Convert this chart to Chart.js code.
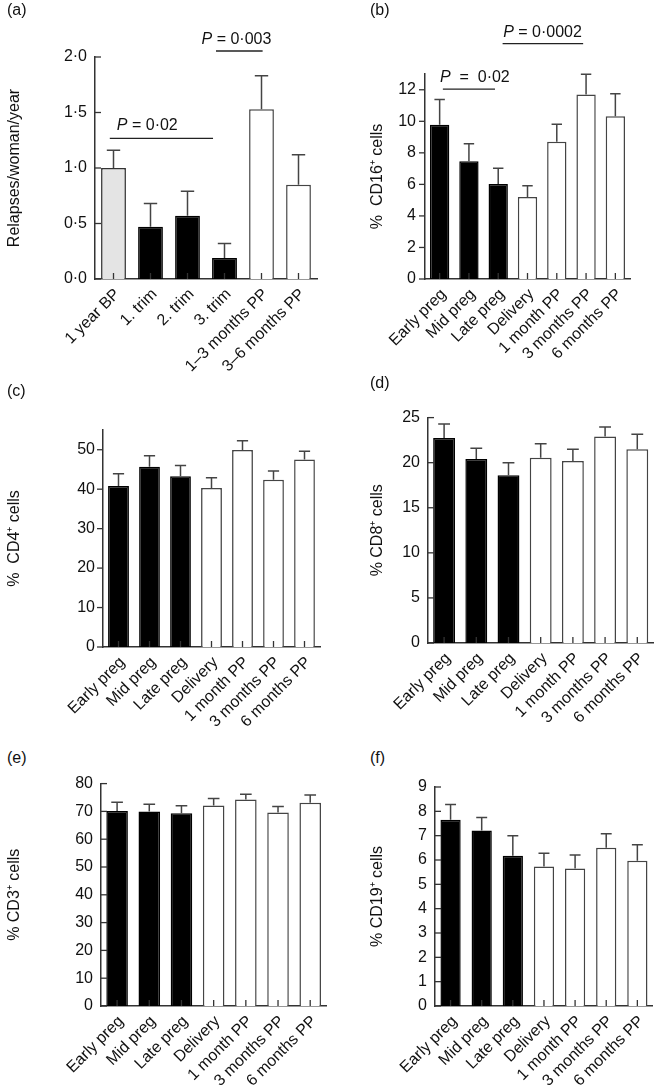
<!DOCTYPE html>
<html><head><meta charset="utf-8">
<script src="https://cdn.jsdelivr.net/npm/chart.js@4"></script>
<style>
html,body{margin:0;padding:0;background:#fff;}
body{width:657px;height:1091px;position:relative;overflow:hidden;font-family:'Liberation Sans',Arial,sans-serif;}
canvas{position:absolute;}
.lbl{position:absolute;font-size:16px;color:#111;line-height:1;font-family:'Liberation Sans',Arial,sans-serif;}
</style></head><body>
<canvas id="pa"></canvas><canvas id="pb"></canvas>
<canvas id="pc"></canvas><canvas id="pd"></canvas>
<canvas id="pe"></canvas><canvas id="pf"></canvas>
<div class="lbl" style="left:7px;top:2px">(a)</div>
<div class="lbl" style="left:370px;top:2px">(b)</div>
<div class="lbl" style="left:7px;top:383px">(c)</div>
<div class="lbl" style="left:370px;top:375px">(d)</div>
<div class="lbl" style="left:7px;top:750px">(e)</div>
<div class="lbl" style="left:370px;top:750px">(f)</div>
<script>
// ---------- DATA ----------
const relapseCategories = ['1 year BP','1. trim','2. trim','3. trim','1–3 months PP','3–6 months PP'];
const relapseRate = [1.00, 0.47, 0.57, 0.19, 1.53, 0.85];
const relapseSE   = [0.16, 0.21, 0.22, 0.13, 0.30, 0.27];
const relapseTicks = ['0·0','0·5','1·0','1·5','2·0'];

const stageCategories = ['Early preg','Mid preg','Late preg','Delivery','1 month PP','3 months PP','6 months PP'];
const cd16   = [9.78, 7.46, 6.02, 5.20, 8.70, 11.70, 10.32];
const cd16SE = [1.61, 1.11, 1.00, 0.72, 1.12, 1.28, 1.43];
const cd16Ticks = ['0','2','4','6','8','10','12'];
const cd4    = [40.8, 45.7, 43.3, 40.3, 49.9, 42.4, 47.5];
const cd4SE  = [3.1, 2.8, 2.7, 2.6, 2.4, 2.2, 2.1];
const cd4Ticks = ['0','10','20','30','40','50'];
const cd8    = [22.75, 20.4, 18.6, 20.55, 20.2, 22.9, 21.5];
const cd8SE  = [1.55, 1.2, 1.4, 1.55, 1.3, 1.05, 1.65];
const cd8Ticks = ['0','5','10','15','20','25'];
const cd3    = [70.1, 70.0, 69.3, 72.1, 74.3, 69.6, 73.1];
const cd3SE  = [3.2, 2.6, 2.7, 2.5, 1.9, 2.2, 2.8];
const cd3Ticks = ['0','10','20','30','40','50','60','70','80'];
const cd19   = [7.65, 7.21, 6.17, 5.73, 5.65, 6.50, 5.97];
const cd19SE = [0.63, 0.54, 0.83, 0.55, 0.56, 0.58, 0.66];
const cd19Ticks = ['0','1','2','3','4','5','6','7','8','9'];

const pTextsA = ['= 0·02', '= 0·003'];
const pTextsB = [' =  0·02', '= 0·0002'];

// ---------- STYLE / LAYOUT ----------
const FONT = "'Liberation Sans', Arial, sans-serif";
Chart.defaults.font.family = FONT;
Chart.defaults.font.size = 16;
Chart.defaults.color = '#111';
const AX = '#333';
function fillsFor(n, kind){
  const f=[], b=[];
  for(let i=0;i<n;i++){
    if(kind==='relapse'){
      if(i===0){f.push('#e4e4e4');b.push('#333');}
      else if(i<4){f.push('#000');b.push('#000');}
      else {f.push('#fff');b.push('#444');}
    } else {
      if(i<3){f.push('#000');b.push('#000');}
      else {f.push('#fff');b.push('#444');}
    }
  }
  return {f,b};
}

const errPlugin = {
  id:'errbars',
  afterDatasetsDraw(chart){
    const ctx=chart.ctx, y=chart.scales.y;
    const ds=chart.data.datasets[0], meta=chart.getDatasetMeta(0);
    ctx.save(); ctx.strokeStyle='#444'; ctx.lineWidth=1.5;
    meta.data.forEach((bar,i)=>{
      const top=y.getPixelForValue(ds.data[i]+ds.errors[i]);
      const cap=bar.width*0.27;
      ctx.beginPath();
      ctx.moveTo(bar.x, bar.y); ctx.lineTo(bar.x, top);
      ctx.moveTo(bar.x-cap, top); ctx.lineTo(bar.x+cap, top);
      ctx.stroke();
    });
    // inward x ticks
    const xs=chart.scales.x, a=chart.chartArea;
    ctx.strokeStyle=AX; ctx.lineWidth=1.3;
    xs.ticks.forEach((t,i)=>{
      const px=xs.getPixelForTick(i);
      ctx.beginPath(); ctx.moveTo(px,a.bottom); ctx.lineTo(px,a.bottom-6); ctx.stroke();
    });
    // y ticks
    const dir = chart.options.plugins.yTickDir || -1;
    y.ticks.forEach((t)=>{
      const py=y.getPixelForValue(t.value);
      ctx.beginPath(); ctx.moveTo(a.left,py); ctx.lineTo(a.left+dir*6,py); ctx.stroke();
    });
    ctx.restore();
  }
};

const pPlugin = {
  id:'pvals',
  afterDraw(chart){
    const notes = chart.options.plugins.pnotes;
    if(!notes) return;
    const ctx=chart.ctx, xs=chart.scales.x, ys=chart.scales.y;
    const p0=xs.getPixelForValue(0), p1=xs.getPixelForValue(1);
    const cx=v=>p0+v*(p1-p0);
    ctx.save();
    notes.forEach(n=>{
      ctx.strokeStyle='#222'; ctx.lineWidth=1.3;
      const ly=ys.getPixelForValue(n.y);
      ctx.beginPath(); ctx.moveTo(cx(n.x0),ly); ctx.lineTo(cx(n.x1),ly); ctx.stroke();
      const tx=cx(n.tx), ty=ys.getPixelForValue(n.ty);
      ctx.fillStyle='#111'; ctx.textBaseline='middle'; ctx.textAlign='left';
      ctx.font="italic 16px "+FONT;
      ctx.fillText('P', tx, ty);
      const w=ctx.measureText('P').width;
      ctx.font="16px "+FONT;
      ctx.fillText(' '+n.text, tx+w, ty);
    });
    ctx.restore();
  }
};

function makeChart(p){
  const c=document.getElementById(p.id);
  c.width=p.w; c.height=p.h;
  c.style.left=p.x+'px'; c.style.top=p.y+'px';
  c.style.width=p.w+'px'; c.style.height=p.h+'px';
  const col=fillsFor(p.labels.length, p.kind);
  new Chart(c,{
    type:'bar',
    data:{labels:p.labels, datasets:[{data:p.values, errors:p.errors,
      backgroundColor:col.f, borderColor:col.b, borderWidth:1.5, borderSkipped:'start',
      barPercentage:p.bp, categoryPercentage:1}]},
    options:{
      responsive:false, animation:false, devicePixelRatio:1,
      layout:{padding:{left:0, top:p.area.top, right:p.w-p.area.right, bottom:0}},
      plugins:{legend:{display:false}, tooltip:{enabled:false}, pnotes:p.notes, yTickDir:p.ydir},
      scales:{
        x:{type:'category', offset:true,
          grid:{display:false, drawTicks:false},
          border:{display:true, color:AX, width:1.5},
          ticks:{autoSkip:false, minRotation:45, maxRotation:45, padding:6, labelOffset:4, color:'#111', font:{size:16}},
          afterFit:s=>{s.height=p.h-p.area.bottom;}},
        y:{min:0, max:p.max,
          grid:{display:false, drawTicks:false},
          border:{display:true, color:AX, width:1.5},
          ticks:{stepSize:p.step, includeBounds:false, padding:p.tpad, color:'#111', font:{size:16},
            callback:(v,i)=>p.tickLabels[i]},
          title:{display:true, text:p.title, color:'#111', font:{size:16}, padding:{top:p.titlePad, bottom:0}},
          afterFit:s=>{s.width=p.area.left;}}
      }
    },
    plugins:[errPlugin, pPlugin]
  });
}

makeChart({id:'pa', x:0, y:0, w:328, h:385, area:{left:95, top:57, right:317, bottom:279},
  labels:relapseCategories, values:relapseRate, errors:relapseSE, kind:'relapse', bp:0.67,
  max:2, step:0.5, tickLabels:relapseTicks, title:'Relapses/woman/year', titlePad:5, tpad:8, ydir:1,
  notes:[{x0:-0.1, x1:2.69, y:1.267, tx:0.09, ty:1.378, text:pTextsA[0]},
         {x0:2.77, x1:4.03, y:2.054, tx:2.38, ty:2.16, text:pTextsA[1]}]});

makeChart({id:'pb', x:330, y:0, w:327, h:385, area:{left:95, top:74, right:300, bottom:279},
  labels:stageCategories, values:cd16, errors:cd16SE, kind:'stage', bp:0.66,
  max:13, step:2, tickLabels:cd16Ticks, title:'%  CD16⁺ cells', titlePad:38, tpad:9, ydir:-1,
  notes:[{x0:0.11, x1:1.89, y:12.04, tx:0.01, ty:12.76, text:pTextsB[0]},
         {x0:2.15, x1:4.9, y:14.92, tx:2.17, ty:15.65, text:pTextsB[1]}]});

makeChart({id:'pc', x:0, y:400, w:328, h:345, area:{left:103, top:30, right:320, bottom:247},
  labels:stageCategories, values:cd4, errors:cd4SE, kind:'stage', bp:0.67,
  max:55, step:10, tickLabels:cd4Ticks, title:'%  CD4⁺ cells', titlePad:5, tpad:8, ydir:-1});

makeChart({id:'pd', x:330, y:400, w:327, h:345, area:{left:98, top:16, right:325, bottom:243},
  labels:stageCategories, values:cd8, errors:cd8SE, kind:'stage', bp:0.68,
  max:25, step:5, tickLabels:cd8Ticks, title:'% CD8⁺ cells', titlePad:38, tpad:8, ydir:1});

makeChart({id:'pe', x:0, y:766, w:330, h:325, area:{left:101, top:15, right:327, bottom:240},
  labels:stageCategories, values:cd3, errors:cd3SE, kind:'stage', bp:0.67,
  max:80, step:10, tickLabels:cd3Ticks, title:'% CD3⁺ cells', titlePad:5, tpad:8, ydir:1});

makeChart({id:'pf', x:330, y:766, w:327, h:325, area:{left:105, top:21, right:326, bottom:240},
  labels:stageCategories, values:cd19, errors:cd19SE, kind:'stage', bp:0.65,
  max:9, step:1, tickLabels:cd19Ticks, title:'% CD19⁺ cells', titlePad:38, tpad:8, ydir:1});
</script>
</body></html>
